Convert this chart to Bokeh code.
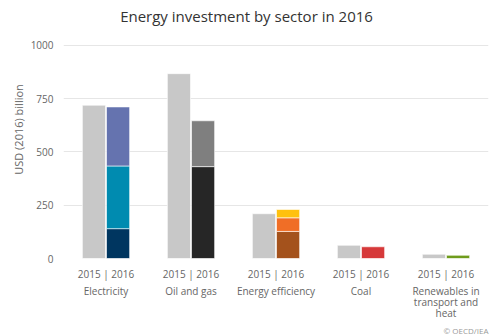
from bokeh.plotting import figure
from bokeh.models import ColumnDataSource, Title, Label, LinearAxis, FixedTicker, Range1d
from bokeh.embed import file_html
from bokeh.resources import INLINE

# Data (USD 2016 billion)
sectors = ["Electricity", "Oil and gas", "Energy efficiency", "Coal", "Renewables in\ntransport and\nheat"]
total_2015 = [719, 867, 210, 62, 20]
# 2016 stacked segments (bottom, middle, top)
seg1_2016 = [140, 431, 127, 55, 15]
seg2_2016 = [294, 215, 64, 0, 0]
seg3_2016 = [277, 0, 39, 0, 0]
colors1 = ["#003660", "#262626", "#A4521C", "#D6393A", "#6F9C1C"]
colors2 = ["#008BB0", "#7F7F7F", "#F06E26", "#D6393A", "#6F9C1C"]
colors3 = ["#6573AF", "#7F7F7F", "#FFC10E", "#D6393A", "#6F9C1C"]
yticks = [0, 250, 500, 750, 1000]

FONT = "Open Sans"
n = len(sectors)
centers = [i + 0.5 for i in range(n)]
bw = 0.272
off = 0.142

# Frame spans page y 0..259; value 1000 sits at page y 45
FB = 259
y_top = 1000 * FB / (FB - 45)

p = figure(width=501, height=335, output_backend="svg", toolbar_location=None,
           x_range=Range1d(0, n), y_range=Range1d(0, y_top),
           min_border_left=63, min_border_right=13, min_border_top=0, min_border_bottom=76)
p.title.visible = False
p.outline_line_color = None
p.background_fill_color = "white"
p.border_fill_color = "white"

x15 = [c - off for c in centers]
x16 = [c + off for c in centers]
src15 = ColumnDataSource(dict(x=x15, top=total_2015))
p.vbar(x="x", top="top", bottom=0, width=bw, source=src15, fill_color="#C8C8C8",
       line_color="white", line_width=0.6)

b1 = [0] * n
t1 = seg1_2016
b2 = t1
t2 = [a + b for a, b in zip(t1, seg2_2016)]
b3 = t2
t3 = [a + b for a, b in zip(t2, seg3_2016)]
for b, t, c in [(b1, t1, colors1), (b2, t2, colors2), (b3, t3, colors3)]:
    xs = [x for x, bb, tt in zip(x16, b, t) if tt > bb]
    bs = [bb for bb, tt in zip(b, t) if tt > bb]
    ts = [tt for bb, tt in zip(b, t) if tt > bb]
    cs = [cc for cc, bb, tt in zip(c, b, t) if tt > bb]
    src = ColumnDataSource(dict(x=xs, bottom=bs, top=ts, color=cs))
    p.vbar(x="x", top="top", bottom="bottom", width=bw, source=src,
           fill_color="color", line_color="white", line_width=0.6)

# Title drawn inside the (extended) frame; screen units relative to frame bottom-left
p.add_layout(Label(x=246 - 63, y=FB - 16, x_units="screen", y_units="screen",
                   text="Energy investment by sector in 2016", text_font=FONT,
                   text_font_size="15px", text_color="#333333",
                   text_align="center", text_baseline="middle"))

# axes
p.xaxis.ticker = FixedTicker(ticks=centers)
p.xaxis.major_label_overrides = {c: "2015 | 2016" for c in centers}
p.xaxis.axis_line_color = None
p.xaxis.major_tick_line_color = None
p.xaxis.minor_tick_line_color = None
p.xaxis.major_tick_out = 0
p.xaxis.major_tick_in = 0
p.xaxis.minor_tick_out = 0
p.xaxis.major_label_text_font = FONT
p.xaxis.major_label_text_font_size = "10px"
p.xaxis.major_label_text_color = "#666666"
p.xaxis.major_label_standoff = 8

ax2 = LinearAxis(ticker=FixedTicker(ticks=centers),
                 major_label_overrides={c: s for c, s in zip(centers, sectors)})
ax2.axis_line_color = None
ax2.major_tick_line_color = None
ax2.minor_tick_line_color = None
ax2.major_tick_out = 0
ax2.major_tick_in = 0
ax2.minor_tick_out = 0
ax2.major_label_text_font = FONT
ax2.major_label_text_font_size = "10px"
ax2.major_label_text_color = "#666666"
ax2.major_label_standoff = 0
ax2.major_label_text_line_height = 0.8
p.add_layout(ax2, "below")

p.add_layout(Title(text="© OECD/IEA", align="right", text_font=FONT,
                   text_font_size="8px", text_font_style="normal",
                   text_color="#999999", standoff=0), "below")

p.yaxis.ticker = FixedTicker(ticks=yticks)
p.yaxis.axis_line_color = None
p.yaxis.major_tick_line_color = None
p.yaxis.minor_tick_line_color = None
p.yaxis.major_tick_out = 0
p.yaxis.major_tick_in = 0
p.yaxis.minor_tick_out = 0
p.yaxis.major_label_text_font = FONT
p.yaxis.major_label_text_font_size = "10px"
p.yaxis.major_label_text_color = "#666666"
p.yaxis.major_label_standoff = 10
p.yaxis.axis_label = "USD (2016) billion"
p.yaxis.axis_label_text_font = FONT
p.yaxis.axis_label_text_font_size = "11px"
p.yaxis.axis_label_text_font_style = "normal"
p.yaxis.axis_label_text_color = "#666666"
p.yaxis.axis_label_standoff = 2

p.xgrid.grid_line_color = None
p.ygrid.ticker = FixedTicker(ticks=yticks)
p.ygrid.grid_line_color = "#E6E6E6"
p.ygrid.grid_line_width = 1

open("out.html", "w").write(file_html(p, INLINE))
